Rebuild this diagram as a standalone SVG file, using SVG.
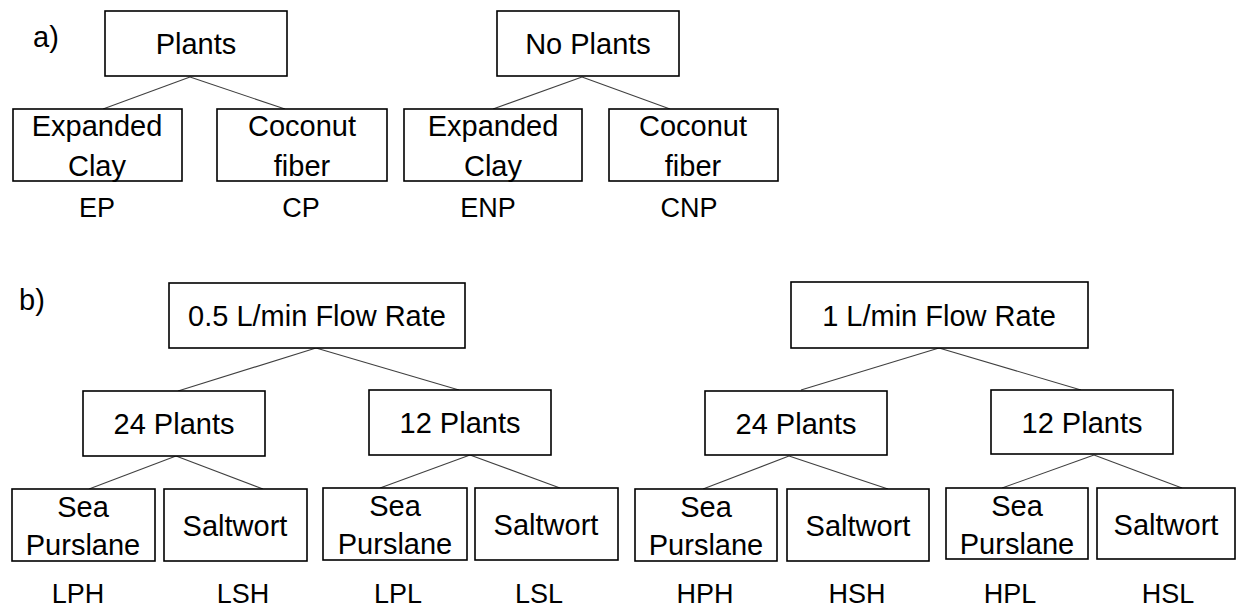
<svg xmlns="http://www.w3.org/2000/svg" width="1236" height="610" viewBox="0 0 1236 610">
<style>
.box{fill:#fff;stroke:#000;stroke-width:1.6}
.t{font-family:"Liberation Sans",Arial,sans-serif;font-size:29px;fill:#000;text-anchor:middle}
.lb{font-family:"Liberation Sans",Arial,sans-serif;font-size:27px;fill:#000;text-anchor:middle}
.c{stroke:#404040;stroke-width:1.1;fill:none}
</style>
<rect width="1236" height="610" fill="#fff"/>
<text class="t" x="46" y="47">a)</text>
<text class="t" x="32" y="310">b)</text>
<g id="connectors">
<line class="c" x1="190" y1="77" x2="103" y2="109"/>
<line class="c" x1="190" y1="77" x2="285" y2="109"/>
<line class="c" x1="582" y1="77" x2="493" y2="109"/>
<line class="c" x1="582" y1="77" x2="670" y2="109"/>
<line class="c" x1="316" y1="348" x2="178" y2="391"/>
<line class="c" x1="316" y1="348" x2="459" y2="390"/>
<line class="c" x1="176" y1="456" x2="89" y2="489"/>
<line class="c" x1="176" y1="456" x2="263" y2="489"/>
<line class="c" x1="470" y1="455" x2="380" y2="488"/>
<line class="c" x1="470" y1="455" x2="560" y2="488"/>
<line class="c" x1="939" y1="348" x2="801" y2="390"/>
<line class="c" x1="939" y1="348" x2="1081" y2="390"/>
<line class="c" x1="789" y1="456" x2="703" y2="489"/>
<line class="c" x1="789" y1="456" x2="888" y2="489"/>
<line class="c" x1="1094" y1="455" x2="1002" y2="488"/>
<line class="c" x1="1094" y1="455" x2="1182" y2="488"/>
</g>
<g id="plants"><rect class="box" x="105" y="11" width="182" height="65"/><text class="t" x="196" y="54">Plants</text></g>
<g id="noplants"><rect class="box" x="497" y="11" width="182" height="65"/><text class="t" x="588" y="54">No Plants</text></g>
<g id="ep"><rect class="box" x="13" y="109" width="169" height="72"/><text class="t" x="97" y="136">Expanded</text><text class="t" x="97" y="176">Clay</text><text class="lb" x="97" y="217">EP</text></g>
<g id="cp"><rect class="box" x="217" y="109" width="170" height="72"/><text class="t" x="302" y="136">Coconut</text><text class="t" x="302" y="176">fiber</text><text class="lb" x="301" y="217">CP</text></g>
<g id="enp"><rect class="box" x="404" y="109" width="178" height="72"/><text class="t" x="493" y="136">Expanded</text><text class="t" x="493" y="176">Clay</text><text class="lb" x="488" y="217">ENP</text></g>
<g id="cnp"><rect class="box" x="609" y="109" width="169" height="72"/><text class="t" x="693" y="136">Coconut</text><text class="t" x="693" y="176">fiber</text><text class="lb" x="689" y="217">CNP</text></g>

<g id="flow05"><rect class="box" x="169" y="283" width="296" height="65"/><text class="t" x="317" y="326">0.5 L/min Flow Rate</text></g>
<g id="flow1"><rect class="box" x="791" y="282" width="297" height="66"/><text class="t" x="939" y="326">1 L/min Flow Rate</text></g>
<g id="p24a"><rect class="box" x="83" y="391" width="182" height="65"/><text class="t" x="174" y="434">24 Plants</text></g>
<g id="p12a"><rect class="box" x="369" y="390" width="182" height="65"/><text class="t" x="460" y="433">12 Plants</text></g>
<g id="p24b"><rect class="box" x="705" y="391" width="182" height="64"/><text class="t" x="796" y="434">24 Plants</text></g>
<g id="p12b"><rect class="box" x="991" y="390" width="182" height="64"/><text class="t" x="1082" y="433">12 Plants</text></g>

<g id="lph"><rect class="box" x="12" y="489" width="143" height="72"/><text class="t" x="83" y="517">Sea</text><text class="t" x="83" y="555">Purslane</text><text class="lb" x="78" y="603">LPH</text></g>
<g id="lsh"><rect class="box" x="164" y="489" width="143" height="72"/><text class="t" x="235" y="536">Saltwort</text><text class="lb" x="243" y="603">LSH</text></g>
<g id="lpl"><rect class="box" x="323" y="488" width="144" height="72"/><text class="t" x="395" y="516">Sea</text><text class="t" x="395" y="554">Purslane</text><text class="lb" x="398" y="603">LPL</text></g>
<g id="lsl"><rect class="box" x="475" y="488" width="143" height="72"/><text class="t" x="546" y="535">Saltwort</text><text class="lb" x="539" y="603">LSL</text></g>
<g id="hph"><rect class="box" x="635" y="489" width="142" height="72"/><text class="t" x="706" y="517">Sea</text><text class="t" x="706" y="555">Purslane</text><text class="lb" x="705" y="603">HPH</text></g>
<g id="hsh"><rect class="box" x="787" y="489" width="142" height="72"/><text class="t" x="858" y="536">Saltwort</text><text class="lb" x="857" y="603">HSH</text></g>
<g id="hpl"><rect class="box" x="946" y="488" width="142" height="71"/><text class="t" x="1017" y="516">Sea</text><text class="t" x="1017" y="554">Purslane</text><text class="lb" x="1010" y="603">HPL</text></g>
<g id="hsl"><rect class="box" x="1097" y="488" width="138" height="71"/><text class="t" x="1166" y="535">Saltwort</text><text class="lb" x="1168" y="603">HSL</text></g>
</svg>
